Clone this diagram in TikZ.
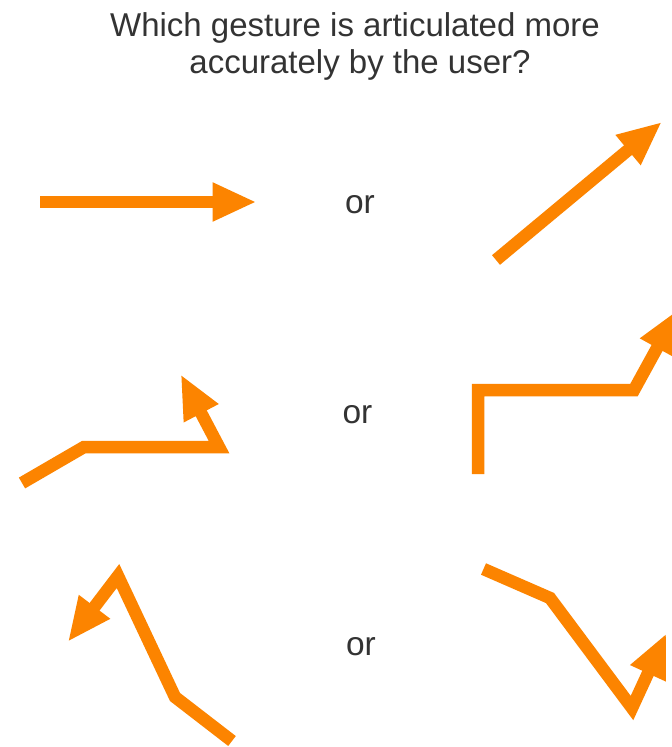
\documentclass[tikz,border=0pt]{standalone}
\usepackage{fontspec}
\setmainfont{Liberation Sans}
\usetikzlibrary{arrows.meta}
\definecolor{gorange}{RGB}{252,132,0}
\definecolor{gtext}{RGB}{51,51,51}
\tikzset{
  gesture/.style={draw=gorange, line width=12.5pt, line join=miter, line cap=butt,
    -{Triangle[length=44pt,width=36pt,sep=1.5pt]}},
  titletext/.style={text=gtext, inner sep=0pt, font=\fontsize{33}{37}\selectfont},
  ortext/.style={text=gtext, inner sep=0pt, font=\fontsize{33.5}{38}\selectfont}
}
\begin{document}
\begin{tikzpicture}[x=1pt,y=-1pt]
\clip (0,0) rectangle (672,747);
\fill[white] (0,0) rectangle (672,747);

\node[titletext, anchor=base] (t1) at (355,36) {Which gesture is articulated more};
\node[titletext, anchor=base] (t2) at (360,73) {accurately by the user?};

\node[ortext] (or1) at (360,205) {or};
\node[ortext] (or2) at (357.5,415) {or};
\node[ortext] (or3) at (361,647) {or};

% row 1
\coordinate (a1s) at (40,202);
\coordinate (a1e) at (258,202);
\draw[gesture] (a1s) -- (a1e);

\coordinate (b1s) at (496,260);
\coordinate (b1e) at (663,121);
\draw[gesture] (b1s) -- (b1e);

% row 2
\coordinate (a2s) at (22,483);
\coordinate (a2p) at (84,447);
\coordinate (a2q) at (219,447);
\coordinate (a2e) at (180,373);
\draw[gesture] (a2s) -- (a2p) -- (a2q) -- (a2e);

\coordinate (b2s) at (478,474);
\coordinate (b2p) at (478,390);
\coordinate (b2q) at (634,390);
\coordinate (b2e) at (679,308);
\draw[gesture] (b2s) -- (b2p) -- (b2q) -- (b2e);

% row 3
\coordinate (a3s) at (232,741);
\coordinate (a3p) at (175,697);
\coordinate (a3q) at (118,576);
\coordinate (a3e) at (67,643);
\draw[gesture] (a3s) -- (a3p) -- (a3q) -- (a3e);

\coordinate (b3s) at (483.5,569);
\coordinate (b3p) at (550,598);
\coordinate (b3q) at (632,708);
\coordinate (b3e) at (667,632);
\draw[gesture] (b3s) -- (b3p) -- (b3q) -- (b3e);
\end{tikzpicture}
\end{document}
